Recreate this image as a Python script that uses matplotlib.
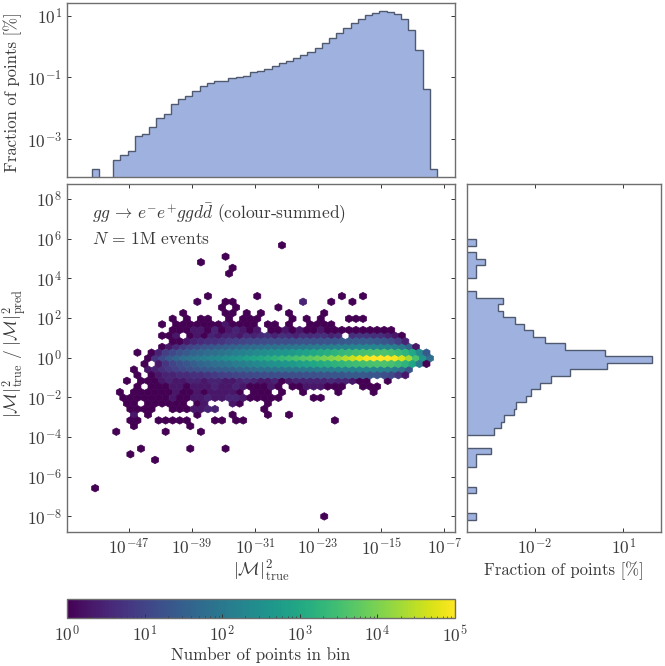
import numpy as np
import matplotlib
matplotlib.use('Agg')
from matplotlib import pyplot as plt
from matplotlib.colors import LogNorm

# log10 of percent per bin, top histogram (bins run left to right, first bin at hist_x_lo)
top_x_lo, top_x_hi = -51.69, -7.93
top_log_pct = [-3.97, None, None, -3.67, -3.50, -3.37, -2.89, -2.83, -2.61, -2.32, -2.18, -1.87,
               -1.70, -1.60, -1.43, -1.27, -1.17, -1.11, -1.10, -1.02, -0.97, -0.94, -0.83, -0.79,
               -0.73, -0.64, -0.54, -0.46, -0.38, -0.27, -0.16, -0.04, 0.11, 0.27, 0.43, 0.59,
               0.76, 0.89, 1.01, 1.10, 1.14, 1.13, 1.05, 0.88, 0.55, -0.11, -1.38, -3.97]

# log10 of percent per bin, right histogram, listed from the top bin downwards
right_y_hi, right_y_lo = 5.98, -8.0 - 0.16
right_log_pct = [-4.0, None, -4.0, -3.70, -4.0, -4.0, None, None, -4.0, -3.10, -3.25, -3.10,
                 -2.67, -2.36, -2.06, -1.65, -0.97, 0.37, 1.99, 0.46, -0.80, -1.47, -1.83, -2.15,
                 -2.29, -2.63, -2.72, -3.04, -3.16, -3.40, None, None, -3.51, -4.0, -4.0, None,
                 None, None, -4.0, None, None, None, -4.0]

# hexbin grid
hex_x0, hex_dx = -51.70, 0.8935
hex_y0, hex_dy = -8.0, 0.2846
hex_nx, hex_ny = 49, 25

# one entry per hex row: row number, first column, counts from that column on
hex_rows = [0, 5, 10, 11, 12, 15, 16, 17, 18, 19, 20, 21, 22, 23, 24, 25, 26, 27, 28, 29, 30, 31,
            32, 33, 34, 35, 36, 37, 38, 39, 43, 44, 45, 46, 48]
hex_first = [33, 0, 9, 5, 7, 3, 6, 5, 6, 5, 5, 4, 4, 6, 5, 6, 6, 7, 8, 6, 10, 11,
             10, 11, 10, 11, 13, 18, 15, 16, 19, 20, 15, 19, 27]
hex_counts = [
    [1],
    [1],
    [1],
    [1],
    [1, 0, 0, 0, 0, 0, 0, 1, 0, 0, 0, 0, 1],
    [1, 0, 0, 0, 0, 0, 0, 1, 0, 0, 0, 0, 1],
    [1, 0, 0, 0, 0, 0, 0, 0, 1],
    [1, 1, 0, 0, 1, 1, 1, 1, 1, 0, 0, 0, 1, 1, 0, 1, 1, 0, 0, 0, 0, 0, 0, 0, 0, 0, 0, 0, 0, 1],
    [2, 0, 1, 0, 0, 0, 0, 0, 0, 1, 0, 0, 0, 0, 1, 0, 0, 0, 0, 1, 0, 0, 1],
    [1, 1, 1, 1, 0, 0, 1, 1, 1, 2, 2, 3, 3, 0, 0, 0, 0, 0, 0, 1],
    [1, 1, 0, 1, 1, 1, 1, 1, 1, 0, 1, 2, 0, 0, 0, 2, 1, 0, 0, 0, 1],
    [1, 1, 1, 1, 1, 1, 1, 2, 1, 1, 2, 2, 3, 2, 2, 3, 3, 2, 1, 1, 1, 1, 1, 0, 0, 0, 0, 1, 1],
    [1, 0, 1, 1, 1, 1, 1, 1, 2, 1, 1, 2, 1, 2, 2, 2, 2, 1, 0, 1, 1, 1, 0, 1, 0, 0, 1,
     0, 0, 0, 0, 1, 0, 0, 0, 0, 1],
    [1, 0, 1, 1, 1, 2, 2, 1, 2, 2, 2, 3, 2, 2, 3, 2, 1, 1, 1, 2, 1, 0, 1, 1, 2, 2, 2, 1, 1, 1,
     0, 0, 1, 1, 1],
    [1, 0, 1, 1, 1, 2, 3, 2, 2, 3, 3, 2, 3, 3, 2, 2, 3, 4, 3, 2, 2, 3, 1, 2, 3, 3, 3, 3, 3, 4,
     3, 3, 2, 1, 1, 0, 0, 1],
    [1, 0, 1, 2, 3, 3, 4, 4, 5, 5, 6, 7, 8, 9, 10, 11, 12, 13, 14, 14, 15, 15, 15, 16, 17, 17,
     18, 18, 20, 22, 24, 25, 24, 22, 20, 16, 12, 6, 2],
    [1, 0, 2, 3, 5, 7, 9, 12, 15, 18, 22, 25, 28, 32, 38, 44, 50, 55, 60, 68, 75, 80, 85, 90,
     100, 105, 115, 125, 135, 150, 165, 175, 185, 190, 185, 175, 150, 110, 70, 20],
    [1, 0, 2, 6, 10, 16, 22, 30, 40, 50, 60, 75, 90, 120, 140, 170, 220, 260, 300, 360, 420,
     480, 600, 750, 900, 1100, 1300, 1600, 1900, 2300, 2700, 3100, 3500, 3800, 3800, 3300, 2500,
     1700, 900, 120, 1],
    [1, 6, 12, 25, 40, 60, 80, 110, 140, 180, 220, 280, 350, 450, 600, 800, 1000, 1300, 1700,
     2200, 2800, 3500, 4500, 5500, 7000, 9000, 12000, 15000, 25000, 40000, 60000, 85000, 100000,
     100000, 95000, 80000, 50000, 20000, 3500, 400, 60],
    [1, 0, 1, 3, 8, 12, 18, 25, 35, 45, 55, 65, 80, 100, 130, 150, 190, 240, 280, 330, 380,
     430, 500, 600, 750, 950, 1150, 1400, 1700, 2100, 2500, 2900, 3300, 3600, 3900, 3900, 3400,
     2600, 1800, 1000, 250, 25],
    [1, 2, 4, 7, 10, 13, 18, 22, 25, 30, 35, 42, 48, 55, 62, 70, 78, 85, 90, 95, 105, 110, 120,
     130, 145, 160, 175, 185, 195, 200, 200, 190, 170, 140, 100, 40, 2],
    [1, 1, 2, 3, 4, 5, 5, 6, 8, 9, 10, 12, 13, 14, 15, 15, 16, 17, 18, 18, 18, 19, 20, 22, 24,
     26, 28, 28, 28, 25, 22, 16, 8, 3],
    [1, 1, 2, 0, 1, 2, 1, 3, 2, 3, 3, 2, 4, 3, 4, 5, 3, 5, 4, 3, 5, 4, 5, 5, 3, 4, 0, 5, 6, 6,
     5, 5, 3, 2, 1],
    [1, 1, 1, 2, 2, 1, 3, 1, 2, 3, 2, 1, 2, 0, 1, 1, 2, 1, 2, 1, 1, 2, 1, 1, 1, 1, 1, 1, 1, 1, 1, 1],
    [1, 0, 1, 1, 1, 1, 1, 1, 1, 2, 1, 1, 1, 1, 0, 1, 1, 0, 1, 0, 0, 1, 1, 1, 1],
    [1, 0, 1, 0, 1, 1, 0, 0, 1, 0, 1, 1, 1, 0, 0, 0, 0, 1, 0, 1, 0, 1, 0, 0, 0, 1, 1, 1],
    [1, 0, 0, 0, 0, 0, 1, 1, 0, 1, 0, 1, 0, 0, 0, 1, 0, 0, 0, 0, 1],
    [1, 0, 1, 0, 0, 0, 0, 0, 1],
    [1, 0, 0, 0, 1, 1, 0, 0, 0, 0, 0, 0, 0, 0, 0, 3, 0, 0, 0, 1, 0, 0, 1],
    [1, 0, 0, 0, 0, 0, 0, 1, 0, 0, 0, 0, 0, 0, 0, 0, 0, 0, 0, 1, 0, 0, 1],
    [1],
    [1],
    [1],
    [1],
    [1],
]

x_ticks = [-47, -39, -31, -23, -15, -7]
y_ticks = [-8, -6, -4, -2, 0, 2, 4, 6, 8]
top_ticks = [-3, -1, 1]
right_ticks = [-2, 1]

plt.rcParams['font.family'] = 'cmr10'
plt.rcParams['mathtext.fontset'] = 'cm'
plt.rcParams['axes.formatter.use_mathtext'] = True
plt.rcParams['axes.unicode_minus'] = False

text_color = '#3a3a3a'
spine_color = '#6e6e6e'
fill_color = '#9fb2df'
edge_color = '#4f5a70'

W, H = 665.0, 666.0


def place(left, top, right, bottom):
    # axes box from picture pixels
    return fig.add_axes([left / W, 1 - bottom / H, (right - left) / W, (bottom - top) / H])


def style(ax, **kw):
    for s in ax.spines.values():
        s.set_color(spine_color)
        s.set_linewidth(1.0)
    ax.tick_params(axis='both', which='major', direction='in', length=3, width=0.7, color='#333333',
                   labelsize=12.5, labelcolor=text_color, pad=3.5, **kw)
    ax.minorticks_off()


fig = plt.figure(figsize=(W / 100, H / 100), dpi=100)
ax_main = place(67, 184, 454.7, 532.3)
ax_top = place(67, 3.3, 454.7, 177.3)
ax_right = place(467.3, 184, 661, 532.3)
ax_cbar = place(67, 599, 454.7, 618.3)

# hexbin
hex_x, hex_y, hex_c = [], [], []
for k, first, counts in zip(hex_rows, hex_first, hex_counts):
    for n, c in enumerate(counts):
        if c > 0:
            hex_x.append(10.0 ** (hex_x0 + (first + n + (k % 2) * 0.5) * hex_dx))
            hex_y.append(10.0 ** (hex_y0 + k * hex_dy))
            hex_c.append(c)

hb = ax_main.hexbin(hex_x, hex_y, C=hex_c, reduce_C_function=np.sum,
                    gridsize=(hex_nx, hex_ny), xscale='log', yscale='log',
                    extent=(hex_x0, hex_x0 + hex_nx * hex_dx, hex_y0, hex_y0 + hex_ny * 2 * hex_dy),
                    cmap='viridis', norm=LogNorm(vmin=1, vmax=1e5), linewidths=0.5, edgecolors='face')
ax_main.set_xlim(10.0 ** -54.82, 10.0 ** -5.68)
ax_main.set_ylim(10.0 ** -8.8, 10.0 ** 8.75)
ax_main.set_xticks([10.0 ** t for t in x_ticks])
ax_main.set_yticks([10.0 ** t for t in y_ticks])
style(ax_main, top=True, right=True)
ax_main.set_xlabel(r'$|\mathcal{M}|^2_{\mathrm{true}}$', fontsize=13, color=text_color, labelpad=1)
ax_main.set_ylabel(r'$|\mathcal{M}|^2_{\mathrm{true}}\ /\ |\mathcal{M}|^2_{\mathrm{pred}}$',
                   fontsize=12.5, color=text_color)
ax_main.yaxis.set_label_coords(-0.098, 0.515)
ax_main.text(0.065, 0.915, r'$gg\,\rightarrow\,e^{-}e^{+}ggd\bar{d}$ (colour-summed)',
             transform=ax_main.transAxes, fontsize=12.5, color=text_color, va='center')
ax_main.text(0.065, 0.842, r'$N\,=\,1$M events', transform=ax_main.transAxes,
             fontsize=12.5, color=text_color, va='center')

# top histogram
top_edges = np.linspace(top_x_lo, top_x_hi, len(top_log_pct) + 1)
top_pct = [0 if v is None else 10.0 ** v for v in top_log_pct]
ax_top.hist(10.0 ** ((top_edges[:-1] + top_edges[1:]) / 2), bins=10.0 ** top_edges, weights=top_pct,
            histtype='stepfilled', facecolor=fill_color, edgecolor=edge_color, linewidth=1.0, log=True)
ax_top.set_xscale('log')
ax_top.set_xlim(ax_main.get_xlim())
ax_top.set_ylim(10.0 ** -4.23, 10.0 ** 1.4)
ax_top.set_yticks([10.0 ** t for t in top_ticks])
style(ax_top, right=True)
ax_top.set_xticks([])
ax_top.set_ylabel('Fraction of points [%]', fontsize=12, color=text_color)
ax_top.yaxis.set_label_coords(-0.115, 0.49)

# right histogram
right_edges = np.linspace(right_y_hi, right_y_lo, len(right_log_pct) + 1)[::-1]
right_pct = [0 if v is None else 10.0 ** v for v in right_log_pct][::-1]
ax_right.hist(10.0 ** ((right_edges[:-1] + right_edges[1:]) / 2), bins=10.0 ** right_edges, weights=right_pct,
              histtype='stepfilled', orientation='horizontal', facecolor=fill_color, edgecolor=edge_color,
              linewidth=1.0, log=True)
ax_right.set_yscale('log')
ax_right.set_ylim(ax_main.get_ylim())
ax_right.set_xlim(10.0 ** -4.3, 10.0 ** 2.28)
ax_right.set_xticks([10.0 ** t for t in right_ticks])
style(ax_right, top=True)
ax_right.set_yticks([])
ax_right.set_xlabel('Fraction of points [%]', fontsize=12, color=text_color, labelpad=3)

# colourbar
cb = fig.colorbar(hb, cax=ax_cbar, orientation='horizontal')
cb.outline.set_edgecolor(spine_color)
cb.outline.set_linewidth(1.0)
ax_cbar.tick_params(axis='x', which='major', direction='in', length=3, width=0.7, color='#333333',
                    labelsize=12.5, labelcolor=text_color, pad=4)
ax_cbar.tick_params(axis='x', which='minor', direction='in', length=1.5, width=0.5, color='#333333')
cb.set_label('Number of points in bin', fontsize=12.2, color=text_color, labelpad=2)

fig.savefig('out.png', dpi=100)
